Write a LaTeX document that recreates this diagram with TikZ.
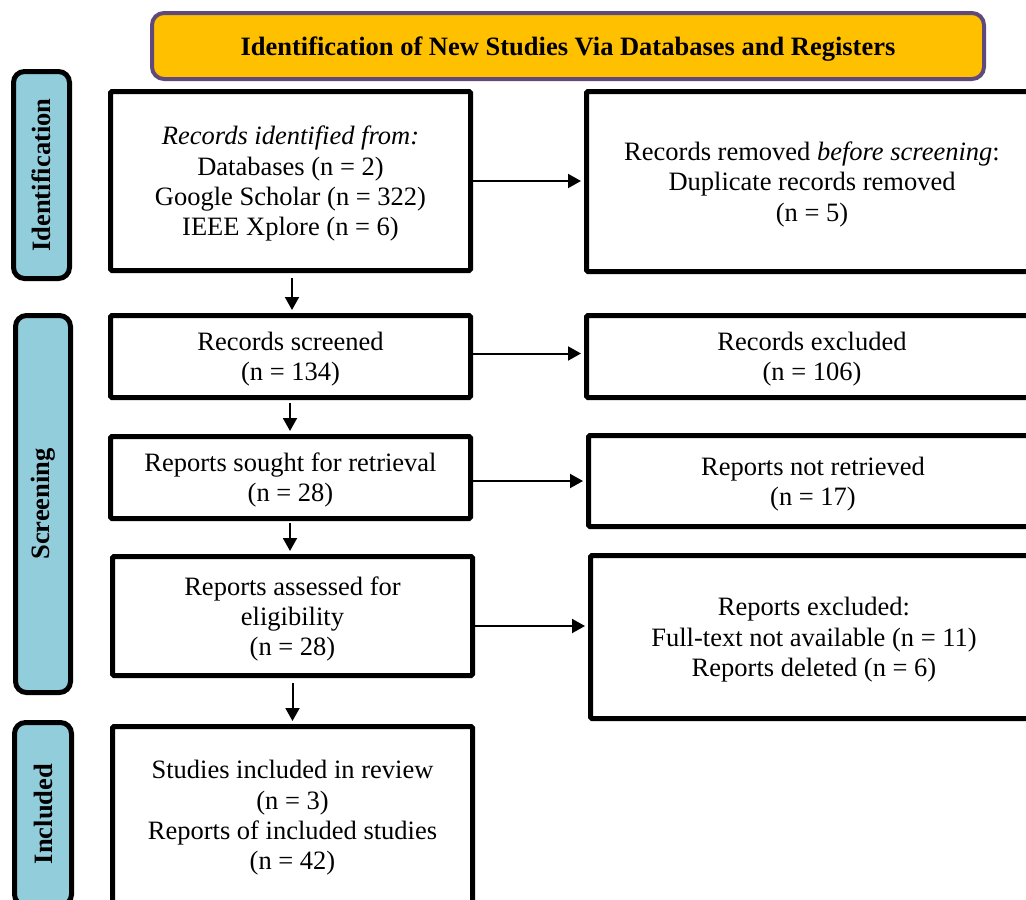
\documentclass[tikz,border=0pt]{standalone}
\usepackage{fontspec}
\setmainfont{Liberation Serif}
\usetikzlibrary{arrows.meta}
\definecolor{bannerfill}{HTML}{FFC000}
\definecolor{bannerline}{HTML}{604A7B}
\definecolor{phasefill}{HTML}{92CDDC}
\begin{document}
\begin{tikzpicture}[x=1pt,y=1pt,
  txt/.style={font=\fontsize{26.5pt}{30.3pt}\selectfont, align=center, text depth=0pt},
  box/.style={txt, draw=black, line width=5pt, fill=white, rounded corners=1.5pt, inner sep=0pt},
  phase/.style={draw=black, line width=5pt, fill=phasefill, rounded corners=11pt, inner sep=0pt,
    rotate=90, font=\fontsize{26.5pt}{30pt}\selectfont\bfseries},
  banner/.style={draw=bannerline, line width=4pt, fill=bannerfill, rounded corners=12pt, inner sep=0pt,
    text depth=0pt, font=\fontsize{26.5pt}{30pt}\selectfont\bfseries},
  arr/.style={line width=2pt, -{Triangle[length=13pt,width=14pt]}, shorten >=3pt}]
\useasboundingbox (0,0) rectangle (1026,-900);
\clip (0,0) rectangle (1026,-900);

% banner
\node[banner, minimum width=832, minimum height=66] (ban) at (568,-46)
  {Identification of New Studies Via Databases and Registers};

% phase labels
\node[phase, minimum width=207, minimum height=56] (pid) at (41.5,-175) {Identification};
\node[phase, minimum width=377, minimum height=55] (pscr) at (43,-504) {Screening};
\node[phase, minimum width=183, minimum height=57] (pinc) at (43,-814) {Included};

% left column
\node[box, minimum width=360, minimum height=179] (b1) at (290.5,-181)
  {\textit{Records identified from:}\\Databases (n = 2)\\Google Scholar (n = 322)\\IEEE Xplore (n = 6)};
\node[box, minimum width=360, minimum height=82] (b2) at (290.5,-356.5)
  {Records screened\\(n = 134)};
\node[box, minimum width=360, minimum height=82] (b3) at (290.5,-477.5)
  {Reports sought for retrieval\\(n = 28)};
\node[box, minimum width=360, minimum height=119] (b4) at (292.5,-616)
  {Reports assessed for\\eligibility\\(n = 28)};
\node[box, minimum width=360, minimum height=177] (b5) at (292.5,-815)
  {Studies included in review\\(n = 3)\\Reports of included studies\\(n = 42)};

% right column
\node[box, minimum width=451, minimum height=180] (r1) at (812,-181.5)
  {Records removed \textit{before screening}:\\Duplicate records removed\\(n = 5)};
\node[box, minimum width=451, minimum height=82] (r2) at (812,-356.5)
  {Records excluded\\(n = 106)};
\node[box, minimum width=449, minimum height=91] (r3) at (813,-481)
  {Reports not retrieved\\(n = 17)};
\node[box, minimum width=447, minimum height=163] (r4) at (814,-637)
  {Reports excluded:\\Full-text not available (n = 11)\\Reports deleted (n = 6)};

% horizontal arrows
\draw[arr] (b1.east) -- (b1.east -| r1.west);
\draw[arr] ([yshift=3pt]b2.east) -- ([yshift=3pt]b2.east -| r2.west);
\draw[arr] (r3.west -| b3.east) -- (r3.west);
\draw[arr] ([yshift=-10pt]b4.east) -- ([yshift=-10pt]b4.east -| r4.west);

% vertical arrows
\draw[arr, shorten <=5pt] ([xshift=1.5pt]b1.south) -- ([xshift=1.5pt]b1.south |- b2.north);
\draw[arr, shorten <=3pt] ([xshift=-0.5pt]b2.south) -- ([xshift=-0.5pt]b2.south |- b3.north);
\draw[arr, shorten <=2pt] ([xshift=-0.5pt]b3.south) -- ([xshift=-0.5pt]b3.south |- b4.north);
\draw[arr, shorten <=5pt] (b4.south) -- (b5.north);
\end{tikzpicture}
\end{document}
